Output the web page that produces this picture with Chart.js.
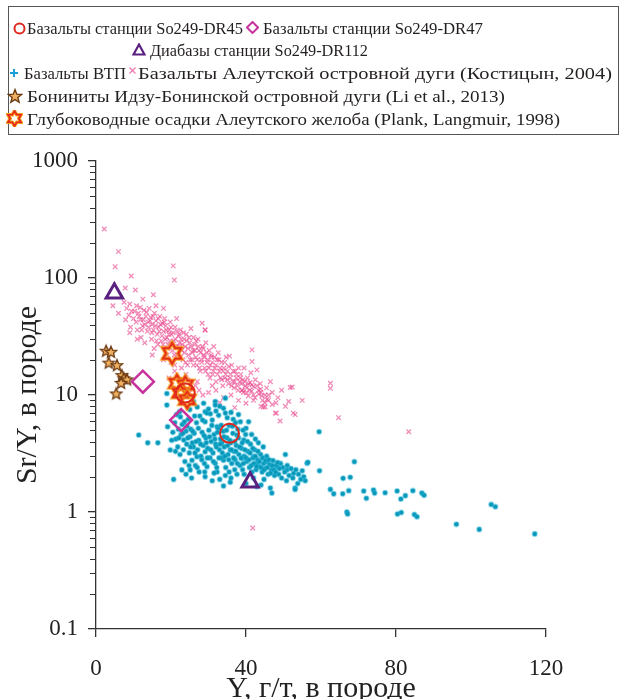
<!DOCTYPE html>
<html><head><meta charset="utf-8">
<script src="https://cdn.jsdelivr.net/npm/chart.js@4.4.1/dist/chart.umd.min.js"></script>
<style>
html,body{margin:0;padding:0;background:#fff;}
#wrap{position:relative;width:623px;height:699px;overflow:hidden;background:#fff;}
#c{position:absolute;left:0;top:0;}
#box{position:absolute;left:8px;top:6px;width:611px;height:129px;border:1px solid #555;box-sizing:border-box;}
.it{position:absolute;white-space:nowrap;height:20px;line-height:20px;font-family:"Liberation Serif","Times New Roman",serif;font-size:17.5px;color:#231f20;transform-origin:0 50%;}
.ic{position:absolute;}
</style></head>
<body>
<div id="wrap">
<canvas id="c" width="623" height="699"></canvas>
<div id="box"></div>
<svg class="ic" style="left:13px;top:22px" width="13" height="13"><circle cx="6.5" cy="6.5" r="5" fill="none" stroke="#e0281e" stroke-width="2"/></svg>
<span class="it" data-w="216" style="left:27px;top:18px">Базальты станции So249-DR45</span>
<svg class="ic" style="left:246px;top:21px" width="13" height="13"><polygon points="6.5,1 12,6.5 6.5,12 1,6.5" fill="none" stroke="#c8329c" stroke-width="2"/></svg>
<span class="it" data-w="220" style="left:263px;top:18px">Базальты станции So249-DR47</span>
<svg class="ic" style="left:132px;top:43px" width="14" height="13"><polygon points="7,1.5 12.5,11.5 1.5,11.5" fill="none" stroke="#5a2080" stroke-width="2.2"/></svg>
<span class="it" data-w="218" style="left:150px;top:40px">Диабазы станции So249-DR112</span>
<svg class="ic" style="left:9px;top:68px" width="10" height="10"><path d="M5 1 V9 M1 5 H9" stroke="#1aa0d8" stroke-width="2"/></svg>
<span class="it" data-w="102" style="left:24px;top:63px">Базальты ВТП</span>
<svg class="ic" style="left:128px;top:66px" width="9" height="9"><path d="M1.5 1.5 L7.5 7.5 M7.5 1.5 L1.5 7.5" stroke="#f07ab0" stroke-width="1.3"/></svg>
<span class="it" data-w="474" style="left:138px;top:63px">Базальты Алеутской островной дуги (Костицын, 2004)</span>
<svg class="ic" style="left:7px;top:88px" width="16" height="16"><polygon id="st" points="" fill="#f0b060" stroke="#6b3a12" stroke-width="1.4"/></svg>
<span class="it" data-w="478" style="left:27px;top:86px">Бониниты Идзу-Бонинской островной дуги (Li et al., 2013)</span>
<svg class="ic" style="left:6px;top:110px" width="17" height="17"><polygon id="hx" points="" fill="none" stroke="#f6a11c" stroke-width="3.5"/><polygon id="hx2" points="" fill="none" stroke="#e5281b" stroke-width="1.6"/></svg>
<span class="it" data-w="533" style="left:27px;top:109px">Глубоководные осадки Алеутского желоба (Plank, Langmuir, 1998)</span>
</div>
<script>
// ---------------- data ----------------
const xTickValues = [0, 40, 80, 120];
const yTickValues = [0.1, 1, 10, 100, 1000];
const yTickLabels = ['0.1', '1', '10', '100', '1000'];

const dr45 = [[23.8, 10.4], [35.6, 4.7]];
const dr47 = [[12.5, 13.0], [22.7, 6.1]];
const dr112 = [[4.9, 74], [41.1, 1.8]];
const boninites = [[2.7, 23.9], [4.0, 23.4], [3.4, 18.9], [5.6, 18.0], [6.9, 14.8], [7.4, 13.9], [8.3, 13.6], [6.7, 12.7], [5.4, 10.3]];
const sediments = [[20.3, 22.7], [21.6, 12.6], [23.8, 12.2], [22.5, 10.4], [24.3, 9.1]];

const vtp = [
[11.4,4.55],[13.8,3.9],[16.5,3.9],[20.7,1.9],[18.9,8.2],[18.9,10.3],[28.7,8.5],[31.8,8.8],[34.5,9.4],[34,7.7],[29.1,7.2],[32.7,6.7],[59.5,4.85],
[19.8,3.39],[19.1,5.36],[22.5,6.5],[24.3,5.4],[25.1,4.4],[23.4,4.13],[26,3.6],[26.9,2.97],[25.6,2.77],[29.1,3.27],[29.6,7.0],[29.1,5.9],[31.8,8.2],[32.3,5.36],[34.5,7.0],[38.5,5.9],[40.7,5.9],[37.6,4.55],[39.4,4.13],[33.6,3.9],[35.8,3.39],[38.9,2.88],[34,2.77],[31.8,2.61],[29.6,2.44],[42,2.97],[42.9,2.61],[45.6,2.69],[48.3,2.44],[50.9,2.29],[52.7,2.14],[55.4,2.0],[56.3,2.61],[46.5,1.6],[42.9,1.65],[46.9,1.45],[53.1,1.6],[34,1.67],[35.8,1.8],[29.1,2.0],[25.1,2.29],[22.9,2.29],[37.6,2.1],[32.3,2.2],[22.3,7.2],
[50.5,3.1],[56.5,2.66],[68.9,2.69],[59.6,2.25],[53.1,1.56],[65.9,1.94],[67.8,1.98],[62.5,1.56],[63.4,1.43],[65.8,1.43],[67.4,1.52],[71.4,1.51],[72.1,1.31],[74,1.54],[74.3,1.45],[77.1,1.46],[80.3,1.51],[81.3,1.29],[82.5,1.38],[84.5,1.52],[86.9,1.45],[87.5,1.39],[66.9,1.0],[67.1,0.96],[80.4,0.96],[81.4,0.99],[84.9,0.95],[85.6,0.91],[96.1,0.785],[102.2,0.71],[105.4,1.16],[106.5,1.11],[117,0.65],[122.2,0.55],
[49.2,2.6],[49.8,2.4],[50.3,2.2],[51,2.5],[51.5,2.05],[52,2.35],[52.5,1.95],[53.3,2.3],[54,2.1],[54.6,1.9],[55,2.25],[48.7,2.1],[49.5,1.95],[50.8,1.85],[53.8,1.75],[55.8,1.85],
[20.5,4.8],[21,5.8],[21.3,4.2],[21.8,3.6],[22,5.1],[22.4,3.1],[22.7,4.6],[23,5.6],[23.3,3.4],[23.7,2.7],[24,4.9],[24.2,3.8],[24.6,6.2],[24.9,3.2],[25.3,5.1],[25.7,3.9],[26.2,4.7],[26.5,2.5],[26.8,5.8],[27.1,3.4],[27.4,4.1],[27.7,6.6],[28,3.0],[28.3,4.8],[28.6,3.7],[28.9,2.6],[29.3,4.3],[29.8,3.5],[30.1,5.0],[30.4,2.9],[30.7,4.0],[31,6.1],[31.2,3.2],[31.5,4.6],[31.9,3.8],[32.2,2.4],[32.6,5.2],[32.9,3.4],[33.2,4.2],[33.5,2.9],[33.9,4.9],[34.2,3.6],[34.6,2.4],[34.9,4.3],[35.2,3.1],[35.5,5.5],[35.9,3.9],[36.2,2.6],[36.5,4.7],[36.8,3.3],[37.1,2.8],[37.4,3.7],[37.8,5.1],[38.1,3.1],[38.4,2.5],[38.8,3.5],[39.1,2.3],[39.5,3.0],[39.9,4.6],[40.2,2.7],[40.5,3.3],[40.9,2.4],[41.2,3.8],[41.6,2.2],[41.9,2.9],[42.3,3.4],[42.7,2.3],[43.1,2.8],[43.5,2.45],[43.9,3.1],[44.3,2.2],[44.7,2.6],[45.1,2.35],[45.5,3.0],[45.9,2.1],[46.3,2.55],[46.8,2.3],[47.2,2.75],[47.6,2.05],[48,2.5],[36,1.95],[33,1.9],[40,1.75],[44,1.7],[27.5,2.2],[24,2.1],[30.5,6.9],[27,7.9],[33,8.0],[36.6,6.2],[38,6.8],[40,5.2],[42.5,4.2],[44.6,3.6],[21.5,6.8],[26,8.8],[35.5,2.2],[31,1.85],[25.5,1.95],
[24.5,4.3],[25.2,3.6],[25.8,4.9],[26.4,3.2],[26.7,4.0],[27.3,5.2],[27.9,3.8],[28.2,2.8],[28.8,4.5],[29.4,3.9],[29.7,2.9],[30.3,4.4],[30.6,3.4],[30.9,5.5],[31.3,2.7],[31.7,4.2],[32.1,3.6],[32.4,4.8],[32.8,2.9],[33.1,3.8],[33.4,5.5],[33.7,3.2],[34.1,4.4],[34.4,3.0],[34.8,5.0],[35.1,3.7],[35.4,2.8],[35.7,4.1],[36.1,3.4],[36.4,5.4],[36.7,2.9],[37,4.0],[37.3,3.3],[37.7,2.6],[38,4.3],[38.3,3.6],[38.7,2.9],[39,3.9],[39.3,2.6],[39.7,3.4],[40,2.9],[40.4,4.0],[40.8,2.8],[41.1,3.2],[41.4,2.5],[41.8,3.5],[42.1,2.6],[42.5,3.0],[42.8,2.45],[43.2,3.3],[43.6,2.7],[44,2.4],[44.4,2.9],[44.8,2.3],[45.2,2.75],[45.7,2.4],[46.1,2.8],[46.6,2.15],[47,2.5],[47.4,2.3],[47.9,2.2],[48.4,2.65],[48.9,2.35],[23.2,4.7],[23.6,5.9],[22.1,4.3],[21.2,3.3],[20.2,4.1],[24.8,2.5],[27,2.4],[29,2.2],[31.5,2.15],[34.5,2.05],[37,2.3],[39.5,2.1],[42,1.95],[44.8,1.9],[30,7.6],[32,7.3],[35,6.4],[37.2,5.8],[39.2,5.0],[41.5,4.6],[43.3,3.9],[28.4,6.1],[26.3,6.6],[25,7.5],[36,7.1]
];

const aleutian = [
[2.2,262],[6.0,168],[5.1,125],[9.4,104],[20.6,127],[20.9,96],[7.8,82],[10.5,79],[15.3,72],[4.5,58],[9,60],[12.5,66],[16,58],[18,55],[6,50],
[7.5,62],[8.2,55],[8.8,48],[9.5,52],[10,45],[9.2,38],[7.9,44],
[10.8,58],[11.3,50],[11.9,44],[12.4,39],[12.8,53],[13.3,47],[13.7,35],[11,36],[12,31],[13.9,42],
[14.2,55],[14.6,46],[15,40],[15.3,36],[15.6,50],[16,43],[16.3,33],[16.7,38],[17,47],[17.4,29],[17.7,41],[18,35],[14.8,30],[16.5,27],[15.5,25],
[18.3,45],[18.6,39],[18.9,31],[19.2,27],[19.5,36],[19.8,42],[20.1,33],[20.4,24],[20.8,29],[21.1,38],[21.4,26],[21.7,22],[22,32],[19,22],[20,19],[21.5,45],
[22.3,28],[22.6,36],[22.9,24],[23.2,20],[23.5,30],[23.8,26],[24.1,33],[24.4,18],[24.7,22],[25,28],[25.3,37],[25.6,20],[25.9,24],[22.8,17],[24,15],[26,31],
[26.3,27],[26.6,21],[26.9,18],[27.2,30],[27.5,24],[27.8,16],[28.1,20],[28.3,41],[28.4,26],[28.7,22],[29,17],[29.1,36],[29.3,28],[29.6,19],[29.9,15],[27,13],
[30.2,24],[30.5,18],[30.8,21],[31.1,15],[31.4,26],[31.7,17],[32,13],[32.3,20],[32.6,23],[32.9,16],[33.2,14],[33.5,19],[33.8,12],[31,12],
[34.1,17],[34.4,14],[34.7,21],[35,16],[35.3,12.5],[35.6,21.5],[35.9,15],[36.2,18],[36.5,13],[36.8,11.5],[37.1,16],[37.4,14],[37.7,12],[38,17],
[38.3,13],[38.6,15],[38.9,11],[39.2,13.5],[39.5,17],[39.8,12],[40.1,10.5],[40.4,14],[40.7,12.5],[41,11],[41.3,15.5],[41.6,24.3],[41.6,19.3],[41.6,12.2],[42,10],
[42.5,13.5],[42.9,16.4],[43.3,11],[43.8,12.5],[44.2,9.8],[44.6,7.9],[45.1,10],[45.1,7.9],[45.5,11.5],[46.5,13],[46,9],[47,10.5],[47.8,7],[48.1,7],[49.1,6],[48.5,9.5],[49.5,11],[50.5,8],[51.4,8.8],[51.8,11.6],[52.3,11.7],[52.6,7],[53.1,6.8],[55,9],[62.5,12.6],[62.5,11.4],[64.7,6.4],[83.4,4.85],[41.8,0.73],[29.1,36],
[19.5,14],[21,16],[23,12],[24.5,13.5],[26.5,12],[25,10.5],[27.5,11],[28.5,10],
[30,10.5],[32,11],[34,9.5],[36,10],[38,9],[40,8.5],[42,9],[44,8],[37,7.8],[39,11],[33,8.6],[44,10.5],[45.6,9.2],
[10.3,52],[10.7,42],[11.5,47],[11.8,56],[12.2,36],[12.6,44],[13,40],[13.5,51],[14,38],[14.4,43],[14.9,34],[15.2,47],[15.8,39],[16.1,29],[16.6,45],[16.9,35],[17.2,40],[17.6,32],[17.9,27],[18.2,42],[18.5,30],[18.8,36],[19.1,25],[19.4,33],[19.7,29],[20,38],[20.3,27],[20.6,34],[20.9,22],[21.2,30],[21.6,35],[21.9,26],[22.2,33],[22.5,21],[22.7,30],[23,27],[23.3,34],[23.6,23],[23.9,19],[24.2,29],[24.5,25],[24.8,31],[25.1,20],[25.4,26],[25.7,23],[26,18],[26.4,24],[26.7,29],[27,20],[27.3,26],[27.6,17],[27.9,23],[28.2,19],[28.6,25],[28.9,21],[29.2,16],[29.5,23],[29.8,20],[30.1,17],[30.4,14],[30.7,22],[31,19],[31.3,16],[31.6,21],[32,18],[32.4,15],[32.8,20],[33.1,17],[33.5,13.5],[33.9,16],[34.3,19],[34.6,15],[35,13.5],[35.4,17.5],[35.8,14],[36.2,12],[36.6,16],[37,13],[37.5,15],[37.9,11],[38.4,14],[38.8,12.5],[39.3,10.5],[39.7,13],[40.2,11.5],[40.6,9.8],[41.1,12.8],[41.5,10.8],[42,11.8],[42.4,9.5],[42.9,12],[43.4,10.2],[43.9,11.2],[44.4,9],[45,8.6],[46,10],[47,8.3],[48,8.6],[13,28],[15,22],[18,20],[21,18],[9,34],[11,30]
];

const decades = [0.1, 1, 10, 100];
const minorMultipliers = [2, 3, 4, 5, 6, 7, 8, 9];

// -------------- legend text fit (horizontal scale only) --------------
document.querySelectorAll('.it').forEach(el => {
  const w = el.getBoundingClientRect().width;
  el.style.transform = 'scaleX(' + (+el.dataset.w / w).toFixed(4) + ')';
});

// -------------- symbol helpers --------------
function starPts(cx, cy, R, r, n, rot) {
  const p = [];
  for (let i = 0; i < 2 * n; i++) {
    const a = rot + i * Math.PI / n;
    const rr = i % 2 === 0 ? R : r;
    p.push([cx + rr * Math.cos(a), cy + rr * Math.sin(a)]);
  }
  return p;
}
document.getElementById('st').setAttribute('points', starPts(8, 8.6, 7, 3, 5, -Math.PI / 2).map(q => q.join(',')).join(' '));
const hp = starPts(8.5, 8.5, 7.5, 7.5 / Math.sqrt(3), 6, -Math.PI / 2).map(q => q.join(',')).join(' ');
document.getElementById('hx').setAttribute('points', hp);
document.getElementById('hx2').setAttribute('points', hp);

function starImg(R) {
  const s = Math.ceil(2 * R + 4), c = document.createElement('canvas');
  c.width = s; c.height = s;
  const g = c.getContext('2d');
  g.beginPath();
  starPts(s / 2, s / 2 + 0.5, R, R * 0.45, 5, -Math.PI / 2).forEach((q, i) => i ? g.lineTo(q[0], q[1]) : g.moveTo(q[0], q[1]));
  g.closePath();
  g.fillStyle = '#f0b060'; g.fill();
  g.strokeStyle = '#6b3a12'; g.lineWidth = 1.3; g.stroke();
  return c;
}
function hexImg(R) {
  const s = Math.ceil(2 * R + 6), c = document.createElement('canvas');
  c.width = s; c.height = s;
  const g = c.getContext('2d');
  g.beginPath();
  starPts(s / 2, s / 2, R, R / Math.sqrt(3), 6, -Math.PI / 2).forEach((q, i) => i ? g.lineTo(q[0], q[1]) : g.moveTo(q[0], q[1]));
  g.closePath();
  g.lineJoin = 'miter';
  g.strokeStyle = '#f6a11c'; g.lineWidth = 4; g.stroke();
  g.strokeStyle = '#e5281b'; g.lineWidth = 2; g.stroke();
  return c;
}
const starI = starImg(6);
const hexBig = hexImg(10.5), hexSmall = hexImg(8.5);

const pts = a => a.map(p => ({x: p[0], y: p[1]}));

const minorTicks = {
  id: 'minorTicks',
  afterDraw(chart) {
    const ys = chart.scales.y, ctx = chart.ctx, x0 = ys.right;
    ctx.save();
    ctx.strokeStyle = '#333'; ctx.lineWidth = 1.2;
    ctx.beginPath();
    for (const d of decades) for (const k of minorMultipliers) {
      const py = Math.round(ys.getPixelForValue(k * d)) + 0.5;
      ctx.moveTo(x0 - 6, py); ctx.lineTo(x0, py);
    }
    ctx.stroke();
    ctx.restore();
  }
};

const serif = 'Liberation Serif';
new Chart(document.getElementById('c'), {
  type: 'scatter',
  data: {
    datasets: [
      {label: 'Диабазы станции So249-DR112', data: pts(dr112), order: 0, pointStyle: 'triangle', pointRadius: 9.5, borderColor: '#5a2080', borderWidth: 3, backgroundColor: 'rgba(0,0,0,0)'},
      {label: 'Базальты станции So249-DR47', data: pts(dr47), order: 1, pointStyle: 'rectRot', pointRadius: 11, borderColor: '#c8329c', borderWidth: 2.5, backgroundColor: 'rgba(0,0,0,0)'},
      {label: 'Базальты станции So249-DR45', data: pts(dr45), order: 2, pointStyle: 'circle', pointRadius: 9.5, borderColor: '#e0281e', borderWidth: 2, backgroundColor: 'rgba(0,0,0,0)'},
      {label: 'Бониниты', data: pts(boninites), order: 3, pointStyle: starI},
      {label: 'Глубоководные осадки', data: pts(sediments), order: 4, pointStyle: ctx => ctx.dataIndex === 0 ? hexBig : hexSmall},
      {label: 'Базальты ВТП', data: pts(vtp), order: 5, clip: false, pointStyle: 'circle', pointRadius: 2.3, backgroundColor: '#0896b6', borderColor: 'rgba(40,180,215,0.45)', borderWidth: 1.6},
      {label: 'Базальты Алеутской островной дуги', data: pts(aleutian), order: 6, pointStyle: 'crossRot', pointRadius: 3.2, borderColor: 'rgba(232,70,140,0.62)', borderWidth: 1.3}
    ]
  },
  options: {
    responsive: false, animation: false, devicePixelRatio: 1,
    layout: {padding: {top: 161, right: 77, left: 0, bottom: 0}},
    plugins: {legend: {display: false}, tooltip: {enabled: false}},
    scales: {
      x: {
        type: 'linear', min: 0, max: 120,
        afterBuildTicks: s => { s.ticks = xTickValues.map(v => ({value: v})); },
        afterFit: s => { s.height = 70; },
        ticks: {font: {family: serif, size: 23}, color: '#222', padding: 18, maxRotation: 0, autoSkip: false, callback: v => String(v)},
        grid: {display: true, drawOnChartArea: false, drawTicks: true, tickLength: 8, color: '#333', lineWidth: 1.3},
        border: {display: true, color: '#333', width: 1.3},
        title: {display: true, text: 'Y, г/т, в породе', color: '#222', font: {family: serif, size: 30, lineHeight: 1.2}, padding: {top: 0, bottom: -8}}
      },
      y: {
        type: 'logarithmic', min: 0.1, max: 1000,
        afterBuildTicks: s => { s.ticks = yTickValues.map(v => ({value: v})); },
        afterFit: s => { s.width = 96; },
        ticks: {font: {family: serif, size: 23}, color: '#222', padding: 10, autoSkip: false, callback: v => yTickLabels[yTickValues.indexOf(v)]},
        grid: {display: true, drawOnChartArea: false, drawTicks: true, tickLength: 8, color: '#333', lineWidth: 1.3},
        border: {display: true, color: '#333', width: 1.3},
        title: {display: true, text: 'Sr/Y, в породе', color: '#222', font: {family: serif, size: 30, lineHeight: 1.2}, padding: {top: 10, bottom: 0}}
      }
    }
  },
  plugins: [minorTicks]
});
</script>
</body></html>
